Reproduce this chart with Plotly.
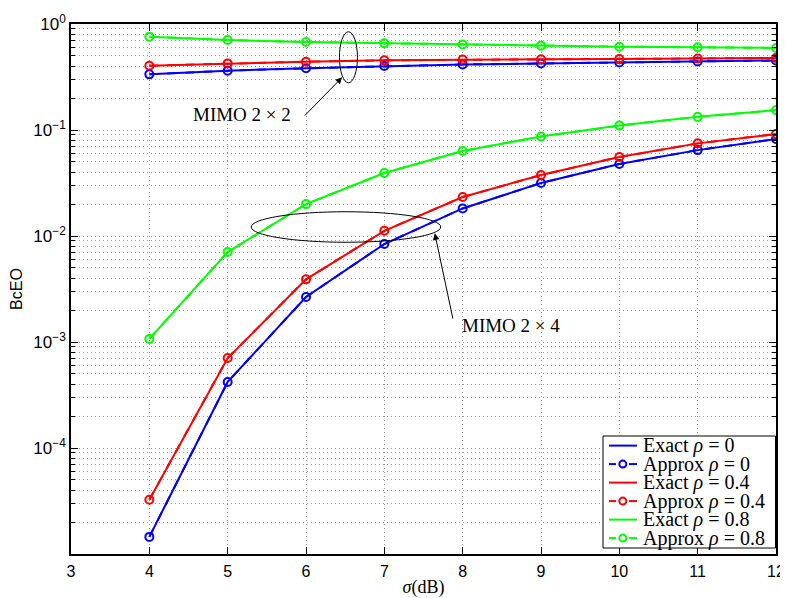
import plotly.graph_objects as go

# ---------------- data ----------------
sigma_db = [4, 5, 6, 7, 8, 9, 10, 11, 12]

# MIMO 2x2
mimo22_rho0 = [0.335, 0.363, 0.382, 0.401, 0.415, 0.424, 0.433, 0.443, 0.453]
mimo22_rho04 = [0.404, 0.425, 0.441, 0.454, 0.462, 0.464, 0.468, 0.472, 0.478]
mimo22_rho08 = [0.76, 0.706, 0.676, 0.657, 0.640, 0.625, 0.611, 0.603, 0.594]

# MIMO 2x4
mimo24_rho0 = [1.45e-5, 4.2e-4, 2.66e-3, 8.4e-3, 0.0182, 0.0316, 0.0478, 0.0646, 0.0822]
mimo24_rho04 = [3.25e-5, 7.06e-4, 3.9e-3, 0.0112, 0.0233, 0.0376, 0.0556, 0.0748, 0.0917]
mimo24_rho08 = [1.07e-3, 7.06e-3, 0.020, 0.0393, 0.0634, 0.0868, 0.110, 0.133, 0.154]

rho_labels = ["0", "0.4", "0.8"]
colors = ["#0000FF", "#FF0000", "#00FF00"]

x_ticks = [3, 4, 5, 6, 7, 8, 9, 10, 11, 12]
y_tickvals = [1e-5, 1e-4, 1e-3, 1e-2, 1e-1, 1]
y_ticktext = ["", "10<sup>−4</sup>", "10<sup>−3</sup>", "10<sup>−2</sup>", "10<sup>−1</sup>", "10<sup>0</sup>"]
y_minor = [k * 10.0 ** e for e in range(-5, 0) for k in range(2, 10)]

SERIF = "Liberation Serif, Times New Roman, serif"
SANS = "Liberation Sans, Arial, sans-serif"
ES = "\u2002"

# page geometry: the page body adds an 8px offset
OFF = 8
W, H = 788 - OFF, 598 - OFF
PL, PR, PT, PB = 71, 776, 24, 554  # plot area in page pixels
ML, MR, MT, MB = PL - OFF, W - (PR - OFF), PT - OFF, H - (PB - OFF)


def px(xp):
    return (xp - PL) / (PR - PL)


def py(yp):
    return (PB - yp) / (PB - PT)


fig = go.Figure()
series22 = [mimo22_rho0, mimo22_rho04, mimo22_rho08]
series24 = [mimo24_rho0, mimo24_rho04, mimo24_rho08]
for rho, col, y22, y24 in zip(rho_labels, colors, series22, series24):
    for yv in (y22, y24):
        # Approx (dashed + circles)
        fig.add_trace(go.Scatter(
            x=sigma_db, y=yv, mode="lines+markers",
            line=dict(color=col, width=2, dash="dash"),
            marker=dict(symbol="circle-open", size=8, color=col, line=dict(width=2, color=col)),
            name=f"Approx ρ = {rho}", showlegend=False,
        ))
        # Exact (solid)
        fig.add_trace(go.Scatter(
            x=sigma_db, y=yv, mode="lines",
            line=dict(color=col, width=2),
            name=f"Exact ρ = {rho}", showlegend=False,
        ))

# ellipses (data coordinates)
fig.add_shape(type="circle", xref="x", yref="y", x0=6.427, x1=6.657, y0=0.279, y1=0.845,
              line=dict(color="black", width=1))
fig.add_shape(type="circle", xref="x", yref="y", x0=5.30, x1=7.72, y0=0.00873, y1=0.01694,
              line=dict(color="black", width=1))

# arrows
fig.add_annotation(x=6.461, y=-0.503, xref="x", yref="y", text="", showarrow=True,
                   ax=-38.7, ay=39.7, arrowhead=2, arrowsize=1.3, arrowwidth=1, arrowcolor="black")
fig.add_annotation(x=7.644, y=-1.975, xref="x", yref="y", text="", showarrow=True,
                   ax=18.4, ay=86.7, arrowhead=2, arrowsize=1.3, arrowwidth=1, arrowcolor="black")
# labels
fig.add_annotation(x=5.18, y=-0.858, xref="x", yref="y", text="MIMO 2 × 2", showarrow=False,
                   xanchor="center", yanchor="middle", font=dict(family=SERIF, size=19, color="black"))
fig.add_annotation(x=7.97, y=-2.84, xref="x", yref="y", text="MIMO 2 × 4", showarrow=False,
                   xanchor="left", yanchor="middle", font=dict(family=SERIF, size=19, color="black"))

# ---------------- legend (drawn by hand to match the tight layout) ----------------
LX0, LX1, LY0, LY1 = 603, 775.5, 436, 548
fig.add_shape(type="rect", xref="paper", yref="paper", x0=px(LX0), x1=px(LX1), y0=py(LY1), y1=py(LY0),
              line=dict(color="black", width=1), fillcolor="white", layer="above")
entry = 0
for rho, col in zip(rho_labels, colors):
    for kind in ("Exact", "Approx"):
        yc = 445.6 + 18.5 * entry
        if kind == "Exact":
            fig.add_shape(type="line", xref="paper", yref="paper", x0=px(609), x1=px(637),
                          y0=py(yc), y1=py(yc), line=dict(color=col, width=2), layer="above")
        else:
            for a, b in ((609, 616), (629, 637)):
                fig.add_shape(type="line", xref="paper", yref="paper", x0=px(a), x1=px(b),
                              y0=py(yc), y1=py(yc), line=dict(color=col, width=2), layer="above")
            fig.add_shape(type="circle", xref="paper", yref="paper", xsizemode="pixel", ysizemode="pixel",
                          xanchor=px(622.8), yanchor=py(yc), x0=-3.5, x1=3.5, y0=-3.5, y1=3.5,
                          line=dict(color=col, width=2), layer="above")
        fig.add_annotation(xref="paper", yref="paper", x=px(640.5), y=py(yc), xanchor="left", yanchor="middle",
                           text=f"{kind} <i>ρ</i> = {rho}", showarrow=False,
                           font=dict(family=SERIF, size=20, color="black"))
        entry += 1

GRID = "#9a9a9a"
DOT = "1px,3px"
fig.update_xaxes(
    range=[3, 12], tickvals=x_ticks, ticks="inside", ticklen=7, tickwidth=1, tickcolor="black",
    showline=True, linecolor="black", linewidth=1.5, mirror="ticks", automargin=False,
    showgrid=True, gridcolor=GRID, griddash=DOT, gridwidth=1, zeroline=False,
    tickfont=dict(family=SANS, size=16, color="black"), ticklabelstandoff=2,
    title=dict(text="<i>σ</i>(dB)", font=dict(family=SERIF, size=18, color="black"), standoff=4),
)
fig.update_yaxes(
    type="log", range=[-5, 0], tickvals=y_tickvals, ticktext=y_ticktext,
    ticks="inside", ticklen=7, tickwidth=1, tickcolor="black",
    showline=True, linecolor="black", linewidth=1.5, mirror="ticks", automargin=False,
    showgrid=True, gridcolor=GRID, griddash=DOT, gridwidth=1, zeroline=False,
    minor=dict(tickvals=y_minor, ticks="inside", ticklen=4, tickcolor="black",
               showgrid=True, gridcolor=GRID, griddash=DOT, gridwidth=1),
    tickfont=dict(family=SANS, size=17, color="black"),
    title=dict(text="BcEO", font=dict(family=SANS, size=16, color="black"), standoff=8),
)

fig.update_layout(
    width=W, height=H,
    margin=dict(l=ML, r=MR, t=MT, b=MB),
    paper_bgcolor="white", plot_bgcolor="white",
    showlegend=False,
)

fig.write_html("out.html")
